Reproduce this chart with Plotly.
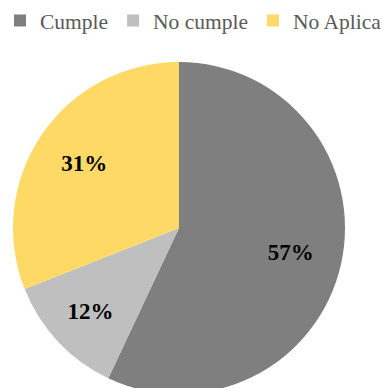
import plotly.graph_objects as go

categories = ["Cumple", "No cumple", "No Aplica"]
values = [57, 12, 31]
colors = ["#7F7F7F", "#BFBFBF", "#FFD966"]

W, H = 390, 394
dom_x = [13 / W, 345 / W]

fig = go.Figure()
fig.add_trace(
    go.Pie(
        labels=categories,
        values=values,
        sort=False,
        direction="clockwise",
        rotation=0,
        marker=dict(colors=colors, line=dict(width=0)),
        textinfo="none",
        domain=dict(x=dom_x, y=[0, 1]),
        hoverinfo="skip",
        showlegend=True,
    )
)
# transparent donut used only to place the percentage labels
fig.add_trace(
    go.Pie(
        labels=categories,
        values=values,
        sort=False,
        direction="clockwise",
        rotation=0,
        hole=0.38,
        marker=dict(colors=["rgba(0,0,0,0)"] * 3, line=dict(width=0)),
        texttemplate="%{percent:.0%}",
        textposition="inside",
        insidetextorientation="horizontal",
        textfont=dict(family="Liberation Serif, Times New Roman, serif", size=23,
                      color="black", weight="bold"),
        domain=dict(x=dom_x, y=[0, 1]),
        hoverinfo="skip",
        showlegend=False,
    )
)

fig.update_layout(
    width=W,
    height=H,
    margin=dict(l=0, r=0, t=62, b=0),
    paper_bgcolor="white",
    plot_bgcolor="white",
    showlegend=True,
    legend=dict(
        orientation="h",
        x=0,
        xanchor="left",
        y=1 + 62 / 332,
        yanchor="top",
        font=dict(family="Liberation Serif, Times New Roman, serif", size=21.5, color="#595959"),
        traceorder="normal",
    ),
)

fig.write_html(
    "out.html",
    config={"displayModeBar": False},
    post_script="document.body.style.margin='0';document.body.style.overflow='hidden';",
)
